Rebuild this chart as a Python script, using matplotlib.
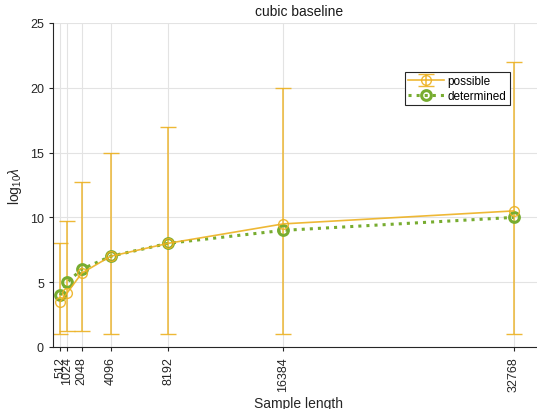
import numpy as np
import matplotlib
matplotlib.use("Agg")
import matplotlib.pyplot as plt

lengths = [512, 1024, 2048, 4096, 8192, 16384, 32768]
possible = [3.5, 4.2, 5.7, 7.0, 8.0, 9.5, 10.5]
possible_low = [1.0, 1.2, 1.2, 1.0, 1.0, 1.0, 1.0]
possible_high = [8.0, 9.7, 12.7, 15.0, 17.0, 20.0, 22.0]
determined = [4.0, 5.0, 6.0, 7.0, 8.0, 9.0, 10.0]

orange = "#EDB120"
green = "#77AC30"

plt.rcParams["font.family"] = ["Liberation Sans", "DejaVu Sans"]
plt.rcParams["mathtext.fontset"] = "custom"
plt.rcParams["mathtext.rm"] = "Liberation Sans"
plt.rcParams["mathtext.it"] = "Liberation Sans:italic"

fig = plt.figure(figsize=(5.37, 4.10), dpi=100)
ax = fig.add_axes([53 / 537, 62 / 410, 492 / 537, 324 / 410])

x = np.array(lengths)
p = np.array(possible)
err = [p - np.array(possible_low), np.array(possible_high) - p]

h1 = ax.errorbar(
    x, p, yerr=err,
    color=orange, alpha=0.9,
    marker="o", markersize=7, markerfacecolor="none",
    markeredgewidth=1.0, linewidth=1.2,
    capsize=6, elinewidth=1.1,
    label="possible"
)

h2, = ax.plot(
    x, determined,
    color=green, linestyle=":", linewidth=2.2,
    marker="o", markersize=7, markerfacecolor="none",
    markeredgewidth=2.2,
    label="determined"
)

ax.set_xlim(0, 35000)
ax.set_ylim(0, 25)
ax.set_xticks(lengths)
ax.set_xticklabels([str(v) for v in lengths], rotation=90)
ax.set_yticks([0, 5, 10, 15, 20, 25])

ax.grid(True, color="#e3e3e3", linewidth=0.8)
ax.set_axisbelow(True)

for s in ["top", "right"]:
    ax.spines[s].set_visible(False)
for s in ["left", "bottom"]:
    ax.spines[s].set_color("#262626")

ax.tick_params(colors="#262626", labelsize=9, length=3)

ax.set_xlabel("Sample length", fontsize=10, color="#262626", labelpad=4)
ax.set_ylabel(r"log$_{10}\lambda$", fontsize=10, color="#262626", labelpad=4)
ax.set_title("cubic baseline", fontsize=10, color="#1a1a1a", pad=6)

leg = ax.legend(
    [h1, h2], ["possible", "determined"],
    loc="upper left",
    bbox_to_anchor=(0.715, 0.849),
    borderaxespad=0,
    fontsize=8.5, frameon=True, fancybox=False,
    handlelength=3, borderpad=0.3, labelspacing=0.2,
    handletextpad=0.3
)
leg.get_frame().set_edgecolor("#262626")
leg.get_frame().set_linewidth(0.8)
leg.get_frame().set_alpha(1)

plt.savefig("out.png", dpi=100)
